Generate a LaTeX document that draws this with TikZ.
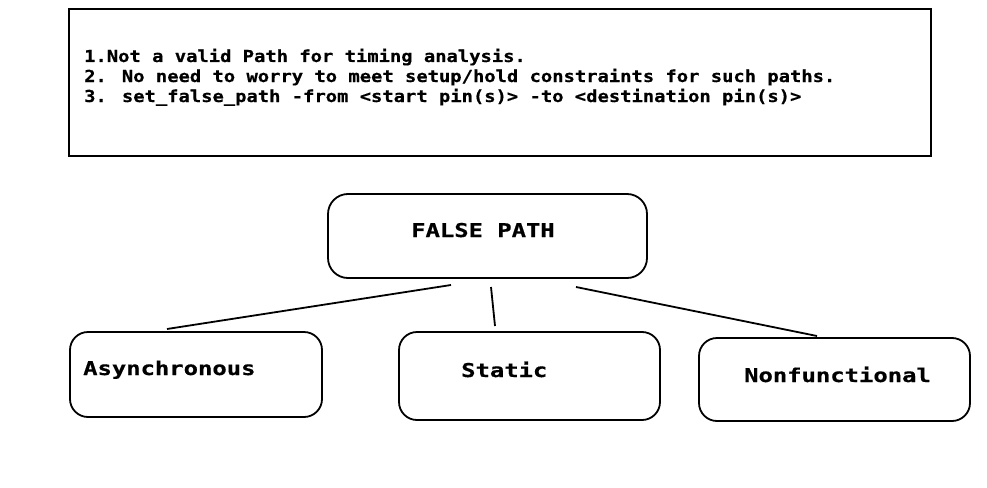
\documentclass[tikz,border=0pt]{standalone}
\usepackage{fontspec}
\newfontfamily\fa{DejaVu Sans Mono}[FakeStretch=1.14,BoldFeatures={FakeBold=0.6}]
\newfontfamily\fb{DejaVu Sans Mono}[FakeStretch=1.255,BoldFeatures={FakeBold=0.6}]
\begin{document}
\begin{tikzpicture}[x=1pt,y=-1pt,
  box/.style={draw,line width=1.8pt,rounded corners=18pt,inner sep=0pt,outer sep=0pt,anchor=north west},
  note/.style={draw,line width=1.8pt,inner sep=0pt,outer sep=0pt,anchor=north west},
  txta/.style={anchor=base west,inner sep=0pt,font=\fa\bfseries\fontsize{16.5}{20}\selectfont},
  txtb/.style={anchor=base west,inner sep=0pt,font=\fb\bfseries\fontsize{19}{22}\selectfont},
  conn/.style={line width=1.8pt}]
\useasboundingbox (0,0) rectangle (987,487);
% top note
\node[note,minimum width=862pt,minimum height=147pt] (notebox) at (69,9) {};
\node[txta] (l1) at (84,62) {1.Not a valid Path for timing analysis.};
\node[txta] (l2) at (84,82) {2. No need to worry to meet setup/hold constraints for such paths.};
\node[txta] (l3) at (84,102) {3. set\_false\_path -from <start pin(s)> -to <destination pin(s)>};
% boxes
\node[box,rounded corners=20pt,minimum width=319pt,minimum height=84pt] (fp) at (328,194) {};
\node[txtb] (fpt) at (411,237) {FALSE PATH};
\node[box,minimum width=252pt,minimum height=85pt] (as) at (70,332) {};
\node[txtb] (ast) at (83,375) {Asynchronous};
\node[box,minimum width=261pt,minimum height=88pt] (st) at (399,332) {};
\node[txtb] (stt) at (461,377) {Static};
\node[box,minimum width=271pt,minimum height=83pt] (nf) at (699,338) {};
\node[txtb] (nft) at (744,382) {Nonfunctional};
% connector ends
\coordinate (c1a) at (451,285);
\coordinate (c1b) at (167,329);
\coordinate (c2a) at (491,287);
\coordinate (c2b) at (495,326);
\coordinate (c3a) at (576,287);
\coordinate (c3b) at (817,336);
\draw[conn] (c1a) -- (c1b);
\draw[conn] (c2a) -- (c2b);
\draw[conn] (c3a) -- (c3b);
\end{tikzpicture}
\end{document}
